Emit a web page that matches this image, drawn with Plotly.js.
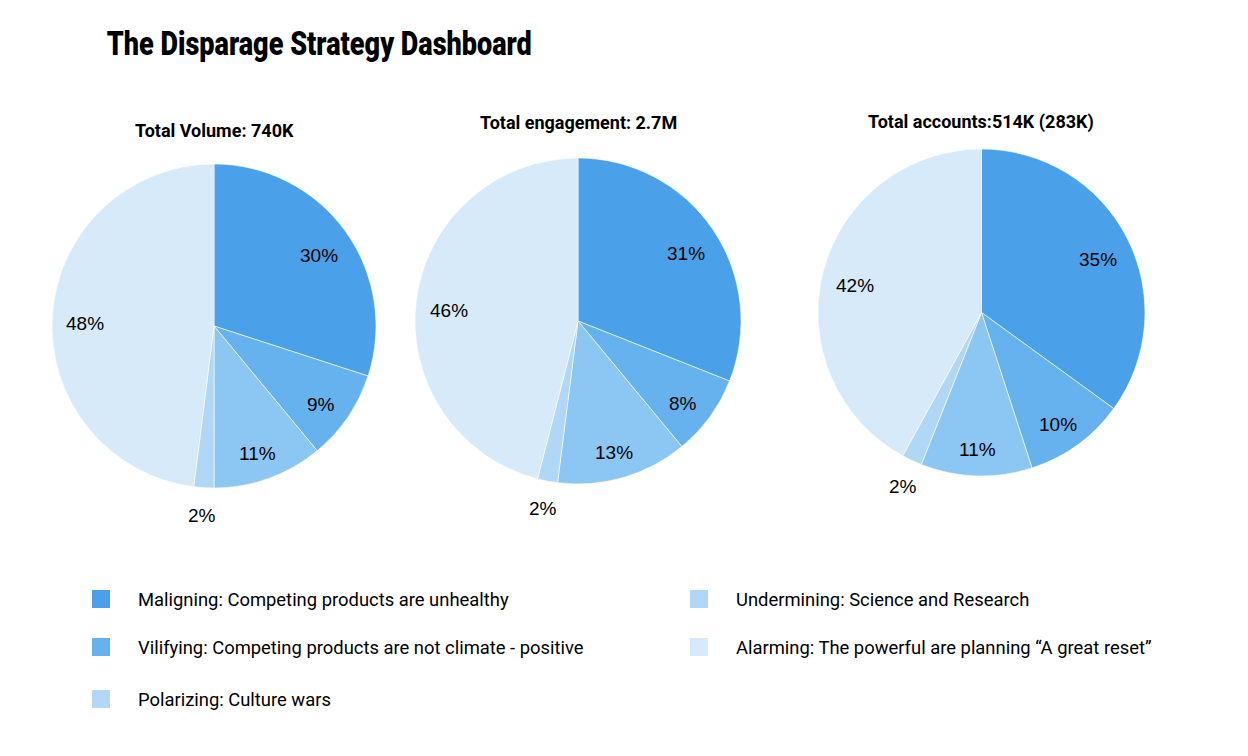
<!DOCTYPE html>
<html>
<head>
<meta charset="utf-8">
<script src="https://cdn.plot.ly/plotly-3.0.1.min.js"></script>
<style>html,body{margin:0;padding:0;background:#fff;}#chart{width:1248px;height:756px;}</style>
</head>
<body>
<div id="chart"></div>
<script>
// ---- data ----
var categories = [
  'Maligning: Competing products are unhealthy',
  'Vilifying: Competing products are not climate - positive',
  'Polarizing: Culture wars',
  'Undermining: Science and Research',
  'Alarming: The powerful are planning \u201cA great reset\u201d'
];
var volumeShare = [30, 9, 11, 2, 48];
var engagementShare = [31, 8, 13, 2, 46];
var accountsShare = [35, 10, 11, 2, 42];
var pieTitles = ['Total Volume: 740K', 'Total engagement: 2.7M', 'Total accounts:514K (283K)'];
var chartTitle = 'The Disparage Strategy Dashboard';

// ---- styles ----
var sliceColors = ['#4aa0e9', '#66b2ef', '#8cc6f2', '#b0d7f6', '#d7eaf9'];
var legendColors = ['#4aa0e9', '#66b2ef', '#b3d8f7', '#b0d7f6', '#d7eaf9'];
var W = 1248, H = 756;
function px(x){return x / W;}
function py(y){return 1 - y / H;}

var pies = [
  {vals: volumeShare, x0: 52, x1: 376, y0: 164, y1: 488, tx: 214, ty: 130},
  {vals: engagementShare, x0: 415, x1: 741, y0: 158, y1: 484, tx: 578, ty: 123},
  {vals: accountsShare, x0: 818, x1: 1145, y0: 149, y1: 476, tx: 981, ty: 122}
];

var labelFont = {family: '"Liberation Sans", Arial, sans-serif', size: 19, color: '#000'};
var traces = pies.map(function(p){
  return {
    type: 'pie',
    labels: categories,
    values: p.vals,
    sort: false,
    direction: 'clockwise',
    rotation: 0,
    marker: {colors: sliceColors, line: {color: '#ffffff', width: 0.6}},
    textinfo: 'none',
    hoverinfo: 'label+percent',
    showlegend: false,
    domain: {x: [px(p.x0), px(p.x1)], y: [py(p.y1), py(p.y0)]}
  };
});

var annotations = [{
  text: chartTitle, xref: 'paper', yref: 'paper',
  x: px(319), y: py(43), xanchor: 'center', yanchor: 'middle', showarrow: false,
  font: {family: 'Roboto, sans-serif', size: 34, weight: 900, color: '#000'}
}];
pies.forEach(function(p, i){
  annotations.push({
    text: pieTitles[i], xref: 'paper', yref: 'paper',
    x: px(p.tx), y: py(p.ty), xanchor: 'center', yanchor: 'middle', showarrow: false,
    font: {family: 'Roboto, sans-serif', size: 18, weight: 700, color: '#000'}
  });
  // slice value labels, placed along each slice's bisector (derived from the data)
  var cx = (p.x0 + p.x1) / 2, cy = (p.y0 + p.y1) / 2;
  var R = Math.min(p.x1 - p.x0, p.y1 - p.y0) / 2;
  var total = p.vals.reduce(function(a, b){return a + b;}, 0);
  var cum = 0;
  p.vals.forEach(function(v){
    var mid = (cum + v / 2) / total * 2 * Math.PI;
    cum += v;
    var outside = v / total < 0.05;
    var r = outside ? R + 22 : R * 0.8;
    annotations.push({
      text: v + '%', xref: 'paper', yref: 'paper',
      x: px(cx + r * Math.sin(mid)), y: py(cy - r * Math.cos(mid) + 6),
      xanchor: 'center', yanchor: 'middle', showarrow: false, font: labelFont
    });
  });
});

// custom two-column legend
var legendPos = [[92, 599], [92, 647], [92, 699], [690, 599], [690, 647]];
var shapes = [];
categories.forEach(function(c, i){
  var lx = legendPos[i][0], ly = legendPos[i][1];
  shapes.push({type: 'rect', xref: 'paper', yref: 'paper',
    x0: px(lx), x1: px(lx + 18), y0: py(ly + 9), y1: py(ly - 9),
    fillcolor: legendColors[i], line: {width: 0}});
  annotations.push({text: c, xref: 'paper', yref: 'paper',
    x: px(lx + 44), y: py(ly), xanchor: 'left', yanchor: 'middle', showarrow: false,
    font: {family: 'Roboto, sans-serif', size: 18.4, color: '#000'}});
});

var layout = {
  width: W, height: H,
  margin: {l: 0, r: 0, t: 0, b: 0},
  paper_bgcolor: '#ffffff',
  showlegend: false,
  annotations: annotations,
  shapes: shapes
};
Plotly.newPlot('chart', traces, layout, {displayModeBar: false, staticPlot: true}).then(function(){
  // condense the headline like the reference's narrow display face
  var nodes = document.querySelectorAll('.annotation-text');
  nodes.forEach(function(n){
    if (n.textContent === chartTitle) {
      n.setAttribute('textLength', '425');
      n.setAttribute('lengthAdjust', 'spacingAndGlyphs');
    }
  });
});
</script>
</body>
</html>
